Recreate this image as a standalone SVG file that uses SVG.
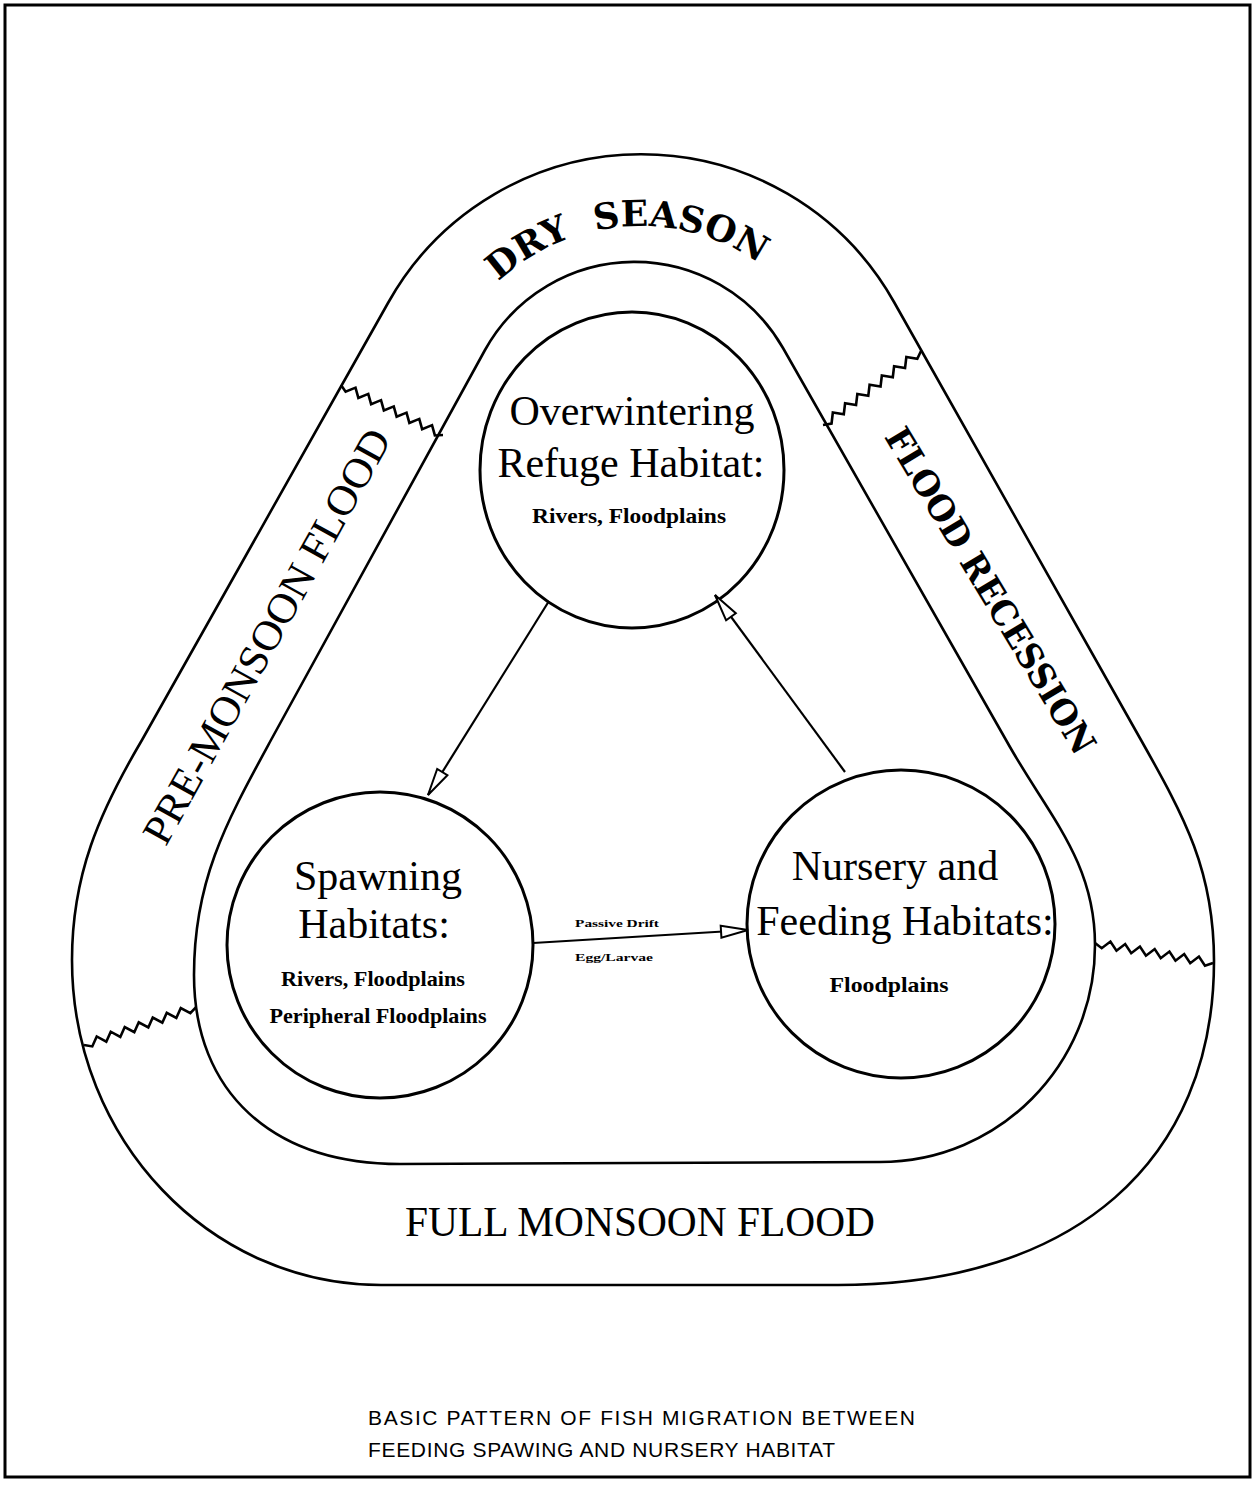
<svg xmlns="http://www.w3.org/2000/svg" width="1259" height="1485" viewBox="0 0 1259 1485">
<style>
.ln{fill:none;stroke:#000;stroke-width:2.6;stroke-linejoin:round;stroke-linecap:round}
.zz{fill:none;stroke:#000;stroke-width:2.6;stroke-linejoin:miter;vector-effect:non-scaling-stroke}
.circ{fill:none;stroke:#000;stroke-width:3}
.arr{fill:none;stroke:#000;stroke-width:2.2}
.big{font-family:"Liberation Serif","Times New Roman",serif;font-size:42px;text-anchor:middle;fill:#000}
.sm{font-family:"Liberation Serif","Times New Roman",serif;font-size:21px;font-weight:bold;text-anchor:middle;fill:#000}
.slab{font-family:"DejaVu Serif",serif;font-weight:bold;fill:#000}
.tiny{font-family:"Liberation Serif",serif;font-size:11px;font-weight:bold;text-anchor:middle;fill:#000}
.cap{font-family:"Liberation Sans",Arial,sans-serif;font-size:21px;fill:#000}
</style>
<defs>
<path id="zz" class="zz" d="M0,0 L6.25,4 L12.5,-4 L18.75,4 L25,-4 L31.25,4 L37.5,-4 L43.75,4 L50,-4 L56.25,4 L62.5,-4 L68.75,4 L75,-4 L81.25,4 L87.5,-4 L93.75,4 L100,0"/>
<path id="dryArc" d="M432,434 A208,208 0 0 1 848,434"/>
<marker id="open" markerUnits="userSpaceOnUse" markerWidth="32" markerHeight="16" viewBox="0 0 32 16" refX="29" refY="8" orient="auto">
<path d="M2,2 L29,8 L2,14 Z" fill="#fff" stroke="#000" stroke-width="2"/>
</marker>
</defs>
<rect x="0" y="0" width="1259" height="1485" fill="#fff"/>
<rect x="5" y="5" width="1245" height="1472" fill="none" stroke="#000" stroke-width="3"/>

<g id="season-track">
<path class="ln" d="M388,303 A290,290 0 0 1 894,302 L1141,740 C1185,818 1214,871 1214,961 C1214,1160 1075,1285 838,1285 L381,1285 C210,1285 72,1140 72,960 C72,875 99,813 142,740 Z"/>
<path class="ln" d="M485,350 A171,171 0 0 1 783,348 L1006,740 C1047,814 1095,860 1095,945 C1095,1065 999,1162 880,1162 L400,1164 C272,1164 194,1092 194,975 C194,880 226,823 271,740 Z"/>
<use href="#zz" transform="translate(341,385) rotate(26.1) scale(1.136,1)"/>
<use href="#zz" transform="translate(823,425) rotate(-37.05) scale(1.228,1)"/>
<use href="#zz" transform="translate(84,1045) rotate(-18.7) scale(1.183,1)"/>
<use href="#zz" transform="translate(1095,943) rotate(9.6) scale(1.197,1)"/>
<text class="slab" font-size="36"><textPath href="#dryArc" startOffset="312" text-anchor="middle">DRY&#160;&#160;SEASON</textPath></text>
<text class="slab" font-size="35" text-anchor="middle" textLength="374" lengthAdjust="spacingAndGlyphs" transform="translate(980,597) rotate(59)">FLOOD RECESSION</text>
<text class="big" font-size="40" textLength="467" lengthAdjust="spacingAndGlyphs" transform="translate(279,643) rotate(-61)">PRE-MONSOON FLOOD</text>
<text class="big" x="640" y="1236" textLength="470" lengthAdjust="spacingAndGlyphs">FULL MONSOON FLOOD</text>
</g>

<g id="node-overwintering">
<ellipse class="circ" cx="632" cy="470" rx="152" ry="158"/>
<text class="big" x="632" y="425">Overwintering</text>
<text class="big" x="631" y="477">Refuge Habitat:</text>
<text class="sm" x="629" y="523" textLength="194" lengthAdjust="spacingAndGlyphs">Rivers, Floodplains</text>
</g>

<g id="node-spawning">
<circle class="circ" cx="380" cy="945" r="153"/>
<text class="big" x="378" y="890" font-size="43">Spawning</text>
<text class="big" x="374" y="938" font-size="43">Habitats:</text>
<text class="sm" x="373" y="986" textLength="184" lengthAdjust="spacingAndGlyphs">Rivers, Floodplains</text>
<text class="sm" x="378" y="1023" textLength="217" lengthAdjust="spacingAndGlyphs">Peripheral Floodplains</text>
</g>

<g id="node-nursery">
<circle class="circ" cx="901" cy="924" r="154"/>
<text class="big" x="895" y="880" font-size="41">Nursery and</text>
<text class="big" x="905" y="935" font-size="41">Feeding Habitats:</text>
<text class="sm" x="889" y="992" textLength="119" lengthAdjust="spacingAndGlyphs">Floodplains</text>
</g>

<g id="connectors">
<path class="arr" d="M549,601 L428,795" marker-end="url(#open)"/>
<path class="arr" d="M845,772 L715,595" marker-end="url(#open)"/>
<path class="arr" d="M533,943 L748,930" marker-end="url(#open)"/>
<text class="tiny" x="617" y="927" textLength="84" lengthAdjust="spacingAndGlyphs">Passive Drift</text>
<text class="tiny" x="614" y="961" textLength="78" lengthAdjust="spacingAndGlyphs">Egg/Larvae</text>
</g>

<g id="caption">
<text class="cap" x="368" y="1425" textLength="547" lengthAdjust="spacing">BASIC PATTERN OF FISH MIGRATION BETWEEN</text>
<text class="cap" x="368" y="1457" textLength="467" lengthAdjust="spacing">FEEDING SPAWING AND NURSERY HABITAT</text>
</g>
</svg>
